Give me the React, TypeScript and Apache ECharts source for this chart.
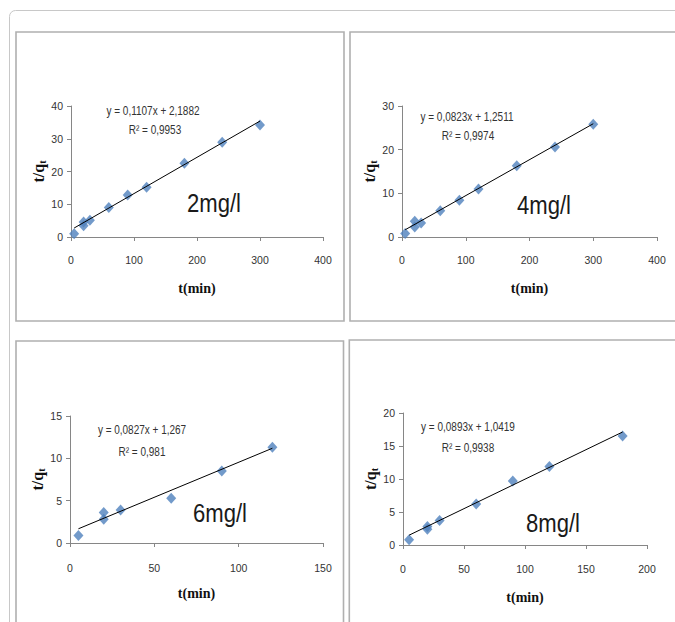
import React, { useEffect, useRef } from "react";
import * as echarts from "echarts";

// ---- data ----
const panelNames = ["2mg/l", "4mg/l", "6mg/l", "8mg/l"];
const equations = [
  "y = 0,1107x + 2,1882",
  "y = 0,0823x + 1,2511",
  "y = 0,0827x + 1,267",
  "y = 0,0893x + 1,0419",
];
const rSquared = ["R² = 0,9953", "R² = 0,9974", "R² = 0,981", "R² = 0,9938"];

const p1X = [5, 20, 20, 30, 60, 90, 120, 180, 240, 300];
const p1Y = [1.0, 3.4, 4.6, 5.1, 9.0, 12.8, 15.2, 22.5, 28.9, 34.2];
const p2X = [5, 20, 20, 30, 60, 90, 120, 180, 240, 300];
const p2Y = [0.8, 2.3, 3.6, 3.2, 6.0, 8.4, 11.0, 16.3, 20.6, 25.8];
const p3X = [5, 20, 20, 30, 60, 90, 120];
const p3Y = [0.9, 2.8, 3.6, 3.9, 5.3, 8.5, 11.3];
const p4X = [5, 20, 20, 30, 60, 90, 120, 180];
const p4Y = [0.8, 2.4, 2.8, 3.7, 6.2, 9.7, 11.9, 16.5];

// trend line end points [x0, y0, x1, y1]
const trend1 = [5, 2.74, 300, 35.4];
const trend2 = [5, 1.66, 300, 25.94];
const trend3 = [5, 1.68, 120, 11.19];
const trend4 = [5, 1.49, 180, 17.12];

// axis ranges [xMax, xInterval, yMax, yInterval]
const axis1 = [400, 100, 40, 10];
const axis2 = [400, 100, 30, 10];
const axis3 = [150, 50, 15, 5];
const axis4 = [200, 50, 20, 5];

const SANS = '"Liberation Sans", Arial, sans-serif';
const SERIF = '"Liberation Serif", "Times New Roman", serif';
const BLUE = "#4F81BD";

const layouts = [
  { left: 71, top: 106, width: 252, height: 131, labelMargin: 17, xGap: 44, yGap: 15, eq: [153, 111, 155, 130], big: [187, 203] },
  { left: 402, top: 106, width: 255, height: 131, labelMargin: 17, xGap: 44, yGap: 17, eq: [467, 117, 468, 136], big: [517, 205] },
  { left: 70, top: 416, width: 253, height: 127, labelMargin: 19, xGap: 43, yGap: 15, eq: [142, 430, 142, 452], big: [193, 513] },
  { left: 403, top: 413, width: 244, height: 132, labelMargin: 18, xGap: 45, yGap: 20, eq: [468, 427, 468, 448], big: [526, 523] },
];

export default function App() {
  const ref = useRef<HTMLDivElement>(null);
  useEffect(() => {
    if (!ref.current) return;
    const chart = echarts.init(ref.current, undefined, { renderer: "svg" });
    const xs = [p1X, p2X, p3X, p4X];
    const ys = [p1Y, p2Y, p3Y, p4Y];
    const trends = [trend1, trend2, trend3, trend4];
    const axes = [axis1, axis2, axis3, axis4];

    const grid = layouts.map((l) => ({ left: l.left, top: l.top, width: l.width, height: l.height }));
    const axisLine = { show: true, lineStyle: { color: "#868686", width: 1 } };
    const axisTick = { show: true, inside: false, length: 4, lineStyle: { color: "#868686" } };
    const axisLabelBase = { color: "#333", fontFamily: SANS, fontSize: 10.5 };

    const xAxis = axes.map((a, i) => ({
      type: "value",
      gridIndex: i,
      min: 0,
      max: a[0],
      interval: a[1],
      axisLine,
      axisTick,
      splitLine: { show: false },
      axisLabel: { ...axisLabelBase, margin: layouts[i].labelMargin },
      name: "t(min)",
      nameLocation: "middle",
      nameGap: layouts[i].xGap,
      nameTextStyle: { fontFamily: SERIF, fontWeight: "bold", fontSize: 14, color: "#111" },
    }));
    const yAxis = axes.map((a, i) => ({
      type: "value",
      gridIndex: i,
      min: 0,
      max: a[2],
      interval: a[3],
      axisLine,
      axisTick,
      splitLine: { show: false },
      axisLabel: { ...axisLabelBase, margin: 8 },
      name: "{a|t/q}{b|t}",
      nameLocation: "middle",
      nameRotate: 90,
      nameGap: layouts[i].yGap,
      nameTextStyle: {
        rich: {
          a: { fontFamily: SERIF, fontWeight: "bold", fontSize: 16, color: "#111" },
          b: { fontFamily: SERIF, fontWeight: "bold", fontSize: 10, color: "#111", padding: [7, 0, 0, 0] },
        },
      },
    }));

    const series: any[] = [];
    for (let i = 0; i < 4; i++) {
      series.push({
        type: "scatter",
        xAxisIndex: i,
        yAxisIndex: i,
        symbol: "diamond",
        symbolSize: [10, 11],
        itemStyle: { color: BLUE },
        data: xs[i].map((x, k) => [x, ys[i][k]]),
        z: 2,
      });
      const t = trends[i];
      series.push({
        type: "line",
        xAxisIndex: i,
        yAxisIndex: i,
        symbol: "none",
        lineStyle: { color: "#000", width: 1 },
        data: [
          [t[0], t[1]],
          [t[2], t[3]],
        ],
        z: 3,
      });
    }

    const graphic: any[] = [
      {
        type: "rect",
        shape: { x: 9.5, y: 10.5, width: 720, height: 720, r: 6 },
        style: { fill: "none", stroke: "#c8c8c8", lineWidth: 1 },
        silent: true,
      },
      { type: "rect", shape: { x: 16, y: 32, width: 328, height: 289 }, style: { fill: "none", stroke: "#b0b0b0", lineWidth: 1.6 }, silent: true },
      { type: "rect", shape: { x: 350, y: 32, width: 400, height: 289 }, style: { fill: "none", stroke: "#b0b0b0", lineWidth: 1.6 }, silent: true },
      { type: "rect", shape: { x: 16, y: 341, width: 327.5, height: 400 }, style: { fill: "none", stroke: "#b0b0b0", lineWidth: 1.6 }, silent: true },
      { type: "rect", shape: { x: 349.3, y: 340, width: 400, height: 400 }, style: { fill: "none", stroke: "#b0b0b0", lineWidth: 1.6 }, silent: true },
    ];
    layouts.forEach((l, i) => {
      graphic.push({
        type: "text",
        x: l.eq[0],
        y: l.eq[1],
        scaleX: 0.8,
        style: { text: equations[i], fontFamily: SANS, fontSize: 12.5, fill: "#333", align: "center", verticalAlign: "middle" },
      });
      graphic.push({
        type: "text",
        x: l.eq[2],
        y: l.eq[3],
        scaleX: 0.8,
        style: { text: rSquared[i], fontFamily: SANS, fontSize: 12.5, fill: "#333", align: "center", verticalAlign: "middle" },
      });
      graphic.push({
        type: "text",
        x: l.big[0],
        y: l.big[1],
        scaleX: 0.85,
        style: { text: panelNames[i], fontFamily: SANS, fontSize: 26, fill: "#1a1a1a", align: "left", verticalAlign: "middle" },
      });
    });

    chart.setOption({
      animation: false,
      backgroundColor: "#fff",
      grid,
      xAxis,
      yAxis,
      series,
      graphic,
    });
    return () => chart.dispose();
  }, []);
  return <div ref={ref} style={{ position: "fixed", left: 0, top: 0, width: 675, height: 622 }} />;
}
